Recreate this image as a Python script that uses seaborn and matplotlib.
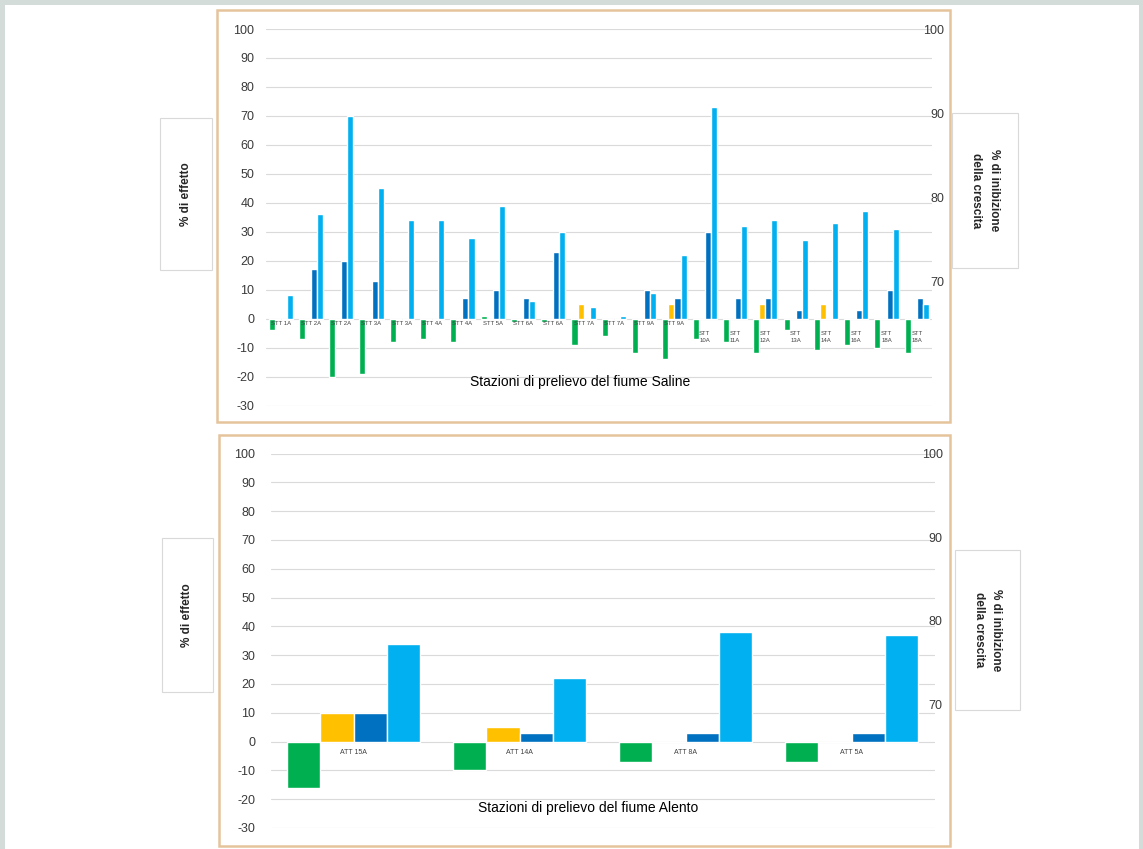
import matplotlib
matplotlib.use("Agg")
import matplotlib.pyplot as plt
from matplotlib.patches import Rectangle
import pandas as pd
import seaborn as sns

# fiume Saline
stazioni_saline = ["STT 1A", "STT 2A", "STT 2A", "STT 3A", "STT 3A", "STT 4A", "STT 4A",
                   "STT 5A", "STT 6A", "STT 6A", "STT 7A", "STT 7A", "STT 9A", "STT 9A",
                   "STT 10A", "STT 11A", "STT 12A", "STT 13A", "STT 14A", "STT 16A",
                   "STT 18A", "STT 18A"]
verde_saline = [-4, -7, -20, -19, -8, -7, -8, 1, -1, -1, -9, -6, -12, -14, -7, -8, -12, -4, -11, -9, -10, -12]
arancio_saline = [0, 0, 0, 0, 0, 0, 0, 0, 0, 0, 5, 0, 0, 5, 0, 0, 5, 0, 5, 0, 0, 0]
blu_saline = [0, 17, 20, 13, 0, 0, 7, 10, 7, 23, 0, 0, 10, 7, 30, 7, 7, 3, 0, 3, 10, 7]
azzurro_saline = [8, 36, 70, 45, 34, 34, 28, 39, 6, 30, 4, 1, 9, 22, 73, 32, 34, 27, 33, 37, 31, 5]

# fiume Alento
stazioni_alento = ["ATT 15A", "ATT 14A", "ATT 8A", "ATT 5A"]
verde_alento = [-16, -10, -7, -7]
arancio_alento = [10, 5, 0, 0]
blu_alento = [10, 3, 3, 3]
azzurro_alento = [34, 22, 38, 37]

serie = ["verde", "arancio", "blu", "azzurro"]
colori = {"verde": "#00B050", "arancio": "#FFC000", "blu": "#0070C0", "azzurro": "#00B0F0"}
tick_sx = list(range(-30, 101, 10))
tick_dx = [70, 80, 90, 100]

sns.set_style("white")
plt.rcParams["font.family"] = ["Liberation Sans", "DejaVu Sans"]
plt.rcParams["axes.unicode_minus"] = False

W, H = 1143, 849
fig = plt.figure(figsize=(W / 100, H / 100), dpi=100)


def rect(x0, y0, x1, y1):
    return [x0 / W, 1 - y1 / H, (x1 - x0) / W, (y1 - y0) / H]


def riquadro(x0, y0, x1, y1, colore, lw, fill=False, fc="white"):
    r = Rectangle((x0 / W, 1 - y1 / H), (x1 - x0) / W, (y1 - y0) / H, transform=fig.transFigure,
                  fill=fill, facecolor=fc, edgecolor=colore, lw=lw)
    fig.add_artist(r)


def pannello(stazioni, valori, ax_px, frame_px, titolo, titolo_xy, box_sx, box_dx,
             fs_cat, off_cat, pad_sx, pad_dx):
    n = len(stazioni)
    df = pd.DataFrame({
        "pos": list(range(n)) * 4,
        "serie": [s for s in serie for _ in range(n)],
        "valore": [v for vals in valori for v in vals],
    })
    ax = fig.add_axes(rect(*ax_px))
    ax.patch.set_alpha(0)
    sns.barplot(data=df, x="pos", y="valore", hue="serie", hue_order=serie, palette=colori,
                width=0.8, saturation=1, errorbar=None, legend=False, ax=ax)
    ax.set_xlim(-0.5, n - 0.5)
    ax.set_ylim(-30, 100)
    ax.set_yticks(tick_sx)
    ax.set_yticklabels([str(t) for t in tick_sx])
    ax.grid(axis="y", color="#dadada", lw=0.8)
    ax.set_axisbelow(True)
    ax.tick_params(axis="x", length=0, labelbottom=False)
    ax.tick_params(axis="y", length=0, pad=pad_sx, labelsize=9, labelcolor="#3a3a3a")
    ax.set_xlabel("")
    ax.set_ylabel("")
    sns.despine(ax=ax, left=True, bottom=True)

    for i, lab in enumerate(stazioni):
        testo, off = lab, off_cat[0]
        if len(off_cat) > 1 and len(lab) > 6:
            testo, off = lab.replace(" ", "\n"), off_cat[1]
        ax.annotate(testo, xy=(i, 0), xytext=(0, off), textcoords="offset points",
                    ha="center", va="center", fontsize=fs_cat, color="#404040", linespacing=1.4)

    ax2 = ax.twinx()
    ax2.set_ylim(55.2, 100)
    ax2.set_yticks(tick_dx)
    ax2.set_yticklabels([str(t) for t in tick_dx], ha="right")
    ax2.tick_params(axis="y", length=0, pad=pad_dx, labelsize=9, labelcolor="#3a3a3a")
    for s in ax2.spines.values():
        s.set_visible(False)

    riquadro(*frame_px, "#e5c49c", 1.8)
    fig.text(titolo_xy[0] / W, 1 - titolo_xy[1] / H, titolo, ha="center", va="center",
             fontsize=10, color="black")

    x0, y0, x1, y1 = box_sx
    riquadro(x0, y0, x1, y1, "#d9d9d9", 0.8, fill=True)
    fig.text((x0 + x1) / 2 / W, 1 - (y0 + y1) / 2 / H, "% di effetto", rotation=90,
             ha="center", va="center", fontsize=8.5, fontweight="bold")
    x0, y0, x1, y1 = box_dx
    riquadro(x0, y0, x1, y1, "#d9d9d9", 0.8, fill=True)
    fig.text((x0 + x1) / 2 / W, 1 - (y0 + y1) / 2 / H, "% di inibizione\ndella crescita",
             rotation=270, ha="center", va="center", fontsize=8.5, fontweight="bold",
             linespacing=1.6)


# sfondo con bordo grigio
for b in [(0, 0, 5, H), (0, 0, W, 5), (1139, 0, W, H)]:
    riquadro(*b, "#d3dcd8", 0, fill=True, fc="#d3dcd8")

pannello(stazioni_saline, [verde_saline, arancio_saline, blu_saline, azzurro_saline],
         (265.5, 29, 932, 405.5), (217, 10, 950, 422),
         "Stazioni di prelievo del fiume Saline", (580, 382),
         (160, 118, 212, 270), (952, 113, 1018, 268),
         4.3, (-3.6, -13.3), 8, 9)

pannello(stazioni_alento, [verde_alento, arancio_alento, blu_alento, azzurro_alento],
         (270.5, 453.5, 934.5, 828), (219, 435, 950, 846),
         "Stazioni di prelievo del fiume Alento", (588, 808),
         (162, 538, 213, 692), (955, 550, 1020, 710),
         5, (-8,), 11, 6)

fig.savefig("out.png", dpi=100)
